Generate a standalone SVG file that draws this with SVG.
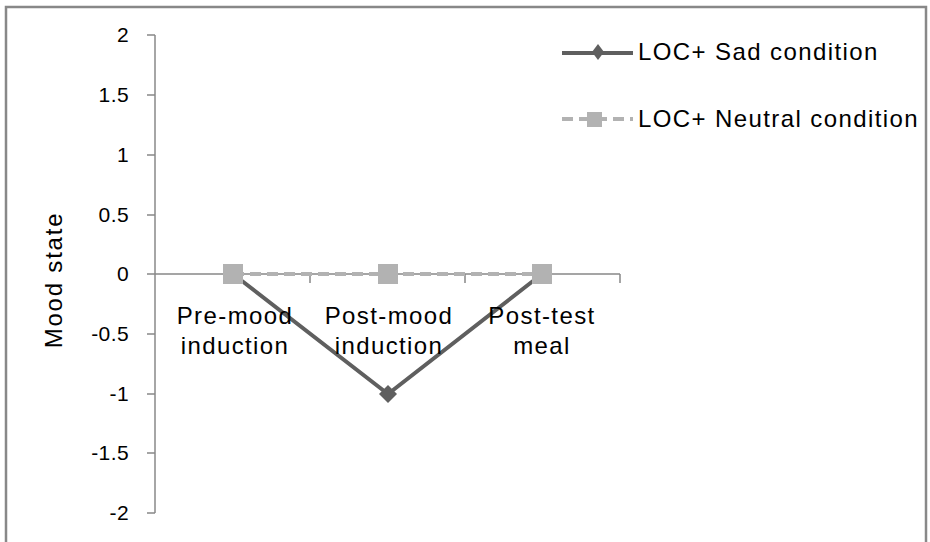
<svg xmlns="http://www.w3.org/2000/svg" width="930" height="542" viewBox="0 0 930 542">
<defs>
<style>
.t{font-family:"Liberation Sans",Arial,sans-serif;font-size:24px;letter-spacing:1.4px;fill:#000}
.tk{font-family:"Liberation Sans",Arial,sans-serif;font-size:21px;letter-spacing:0.4px;fill:#000;text-anchor:end}
.ax{stroke:#888;stroke-width:1.5;fill:none}
.sad{stroke:#5f5f5f;stroke-width:4;fill:none}
.neu{stroke:#b2b2b2;stroke-width:4;fill:none;stroke-dasharray:11 6}
.sq{fill:#b2b2b2}
.dm{fill:#5f5f5f}
</style>
</defs>
<rect x="0" y="0" width="930" height="542" fill="#fff"/>
<rect x="6" y="7" width="920" height="545" fill="none" stroke="#888" stroke-width="2.5"/>
<g id="axes">
<path class="ax" d="M155,35 V513"/>
<path class="ax" d="M147,35 H155 M147,95 H155 M147,155 H155 M147,215 H155 M147,274 H155 M147,334 H155 M147,394 H155 M147,453 H155 M147,513 H155"/>
<path class="ax" d="M155,274 H620 M310,274 V283 M465,274 V283 M620,274 V283"/>
</g>
<g id="ticklabels">
<text class="tk" x="129" y="42">2</text>
<text class="tk" x="129" y="102">1.5</text>
<text class="tk" x="129" y="162">1</text>
<text class="tk" x="129" y="222">0.5</text>
<text class="tk" x="129" y="281">0</text>
<text class="tk" x="129" y="341">-0.5</text>
<text class="tk" x="129" y="401">-1</text>
<text class="tk" x="129" y="460">-1.5</text>
<text class="tk" x="129" y="520">-2</text>
</g>
<text id="ytitle" class="t" style="letter-spacing:1.8px" text-anchor="middle" transform="translate(62,280) rotate(-90)">Mood state</text>
<g id="connectors">
<polyline class="sad" points="233,274 388,394 542,274"/>
<path class="dm" d="M388,385 L397,394 L388,403 L379,394 Z"/>
<polyline class="neu" points="233,274 542,274"/>
<rect class="sq" x="223" y="264" width="20" height="20"/>
<rect class="sq" x="378" y="264" width="20" height="20"/>
<rect class="sq" x="532" y="264" width="20" height="20"/>
</g>
<g id="catlabels" class="t" text-anchor="middle">
<text x="235" y="324">Pre-mood</text>
<text x="235" y="354">induction</text>
<text x="389" y="324">Post-mood</text>
<text x="389" y="354">induction</text>
<text x="542" y="324">Post-test</text>
<text x="542" y="354">meal</text>
</g>
<g id="legend-sad">
<path class="sad" d="M562,53 H633"/>
<path class="dm" d="M598,44 L604,52 L598,60 L592,52 Z"/>
<text class="t" x="638" y="60">LOC+ Sad condition</text>
</g>
<g id="legend-neutral">
<path class="neu" d="M562,119 H633" stroke-dasharray="8 6"/>
<rect class="sq" x="587" y="112" width="15" height="15"/>
<text class="t" x="638" y="127">LOC+ Neutral condition</text>
</g>
</svg>
